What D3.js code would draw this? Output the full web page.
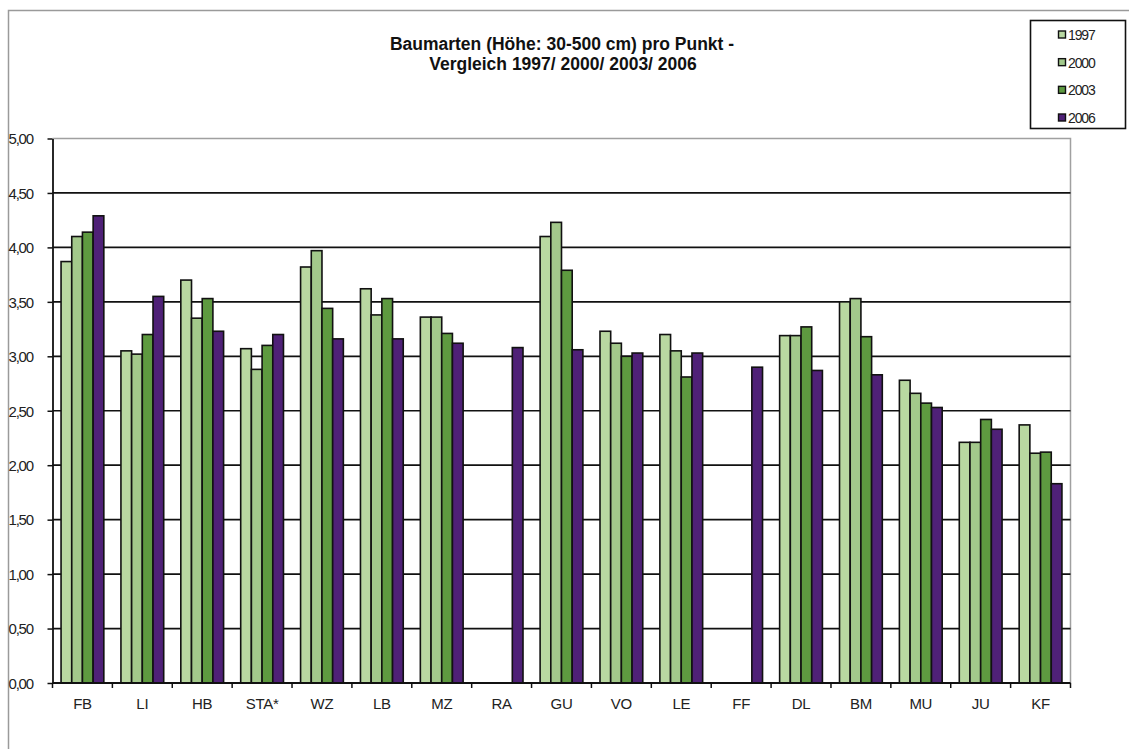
<!DOCTYPE html>
<html>
<head>
<meta charset="utf-8">
<script src="https://cdn.jsdelivr.net/npm/d3@7/dist/d3.min.js"></script>
<style>
  html, body { margin: 0; padding: 0; background: #fff; }
  svg { display: block; font-family: "Liberation Sans", Arial, sans-serif; }
</style>
</head>
<body>
<svg id="chart" width="1129" height="749"></svg>
<script>
// Tree species (height 30-500 cm) per point, surveys 1997/2000/2003/2006
const categories = ["FB", "LI", "HB", "STA*", "WZ", "LB", "MZ", "RA", "GU", "VO", "LE", "FF", "DL", "BM", "MU", "JU", "KF"];
const years = ["1997", "2000", "2003", "2006"];
const v1997 = [3.87, 3.05, 3.70, 3.07, 3.82, 3.62, 3.36, null, 4.10, 3.23, 3.20, null, 3.19, 3.50, 2.78, 2.21, 2.37];
const v2000 = [4.10, 3.02, 3.35, 2.88, 3.97, 3.38, 3.36, null, 4.23, 3.12, 3.05, null, 3.19, 3.53, 2.66, 2.21, 2.11];
const v2003 = [4.14, 3.20, 3.53, 3.10, 3.44, 3.53, 3.21, null, 3.79, 3.00, 2.81, null, 3.27, 3.18, 2.57, 2.42, 2.12];
const v2006 = [4.29, 3.55, 3.23, 3.20, 3.16, 3.16, 3.12, 3.08, 3.06, 3.03, 3.03, 2.90, 2.87, 2.83, 2.53, 2.33, 1.83];
const yTicks = [0, 0.5, 1, 1.5, 2, 2.5, 3, 3.5, 4, 4.5, 5];
const colors = ["#b9d8a1", "#a3c98b", "#5e9a40", "#4f2177"];

const series = [v1997, v2000, v2003, v2006];
const svg = d3.select("#chart");

// outer chart frame
svg.append("path")
  .attr("d", "M8.5,749 V10.5 H1129")
  .attr("fill", "none").attr("stroke", "#9a9a9a").attr("stroke-width", 1.5);

const plot = { left: 52.5, right: 1070.5, top: 138.5, bottom: 683 };

const x = d3.scaleBand().domain(categories).range([plot.left, plot.right]).paddingInner(0).paddingOuter(0);
const inner = d3.scaleBand().domain(years).range([0, x.bandwidth() / 1.4]);
const y = d3.scaleLinear().domain([0, 5]).range([plot.bottom, plot.top]);

// plot area border (top and right)
svg.append("path")
  .attr("d", `M${plot.left},${plot.top} H${plot.right} V${plot.bottom}`)
  .attr("fill", "none").attr("stroke", "#a0a0a0").attr("stroke-width", 1.5);

// horizontal gridlines
svg.append("g").selectAll("line")
  .data(yTicks.filter(t => t > 0 && t < 5))
  .join("line")
  .attr("x1", plot.left).attr("x2", plot.right)
  .attr("y1", d => y(d)).attr("y2", d => y(d))
  .attr("stroke", "#111").attr("stroke-width", 1.7);

// bars
const groupOffset = (x.bandwidth() - x.bandwidth() / 1.4) / 2;
const barG = svg.append("g");
series.forEach((vals, si) => {
  barG.append("g").selectAll("rect")
    .data(categories.map((c, i) => ({ c, v: vals[i] })).filter(d => d.v != null))
    .join("rect")
    .attr("x", d => x(d.c) + groupOffset + inner(years[si]))
    .attr("width", inner.bandwidth())
    .attr("y", d => y(d.v))
    .attr("height", d => y(0) - y(d.v))
    .attr("fill", colors[si])
    .attr("stroke", "#111").attr("stroke-width", 1.6);
});

const labelFont = 15;

// y axis
const yAxis = d3.axisLeft(y).tickValues(yTicks).tickSize(5).tickSizeOuter(0)
  .tickFormat(d => d3.format(".2f")(d).replace(".", ","));
const gy = svg.append("g").attr("transform", `translate(${plot.left},0)`).call(yAxis);
gy.select(".domain").attr("stroke", "#111").attr("stroke-width", 1.8);
gy.selectAll(".tick line").attr("stroke", "#111").attr("stroke-width", 1.5);
gy.selectAll(".tick text")
  .attr("x", -44).attr("dy", "0.35em").attr("text-anchor", "start")
  .attr("font-size", labelFont).attr("fill", "#222").style("letter-spacing", "-1.2px");

// x axis with tick marks at category boundaries
svg.append("line")
  .attr("x1", plot.left).attr("x2", plot.right)
  .attr("y1", y(0)).attr("y2", y(0))
  .attr("stroke", "#111").attr("stroke-width", 2);
svg.append("g").selectAll("line")
  .data(d3.range(categories.length + 1))
  .join("line")
  .attr("x1", i => plot.left + i * x.step()).attr("x2", i => plot.left + i * x.step())
  .attr("y1", y(0)).attr("y2", y(0) + 5)
  .attr("stroke", "#111").attr("stroke-width", 1.5);
svg.append("g").selectAll("text")
  .data(categories)
  .join("text")
  .attr("x", d => x(d) + x.bandwidth() / 2)
  .attr("y", plot.bottom + 26)
  .attr("text-anchor", "middle")
  .attr("font-size", labelFont).attr("fill", "#222").style("letter-spacing", "-0.3px")
  .text(d => d);

// title
const title = svg.append("text").attr("text-anchor", "middle")
  .attr("font-size", 17.5).attr("font-weight", "bold").attr("fill", "#111");
title.append("tspan").attr("x", 562).attr("y", 50).text("Baumarten (Höhe: 30-500 cm) pro Punkt -");
title.append("tspan").attr("x", 563).attr("y", 70).text("Vergleich 1997/ 2000/ 2003/ 2006");

// legend
const legend = svg.append("g");
legend.append("rect")
  .attr("x", 1030.5).attr("y", 20.5).attr("width", 95).attr("height", 108)
  .attr("fill", "#fff").attr("stroke", "#111").attr("stroke-width", 1.6);
const ly = d3.scalePoint().domain(years).range([35, 118]);
years.forEach((yr, i) => {
  legend.append("rect")
    .attr("x", 1058.5).attr("y", ly(yr) - 4).attr("width", 7).attr("height", 7)
    .attr("fill", colors[i]).attr("stroke", "#111").attr("stroke-width", 1.4);
  legend.append("text")
    .attr("x", 1068).attr("y", ly(yr) + 5)
    .attr("font-size", 14).attr("fill", "#222").style("letter-spacing", "-1.1px")
    .text(yr);
});
</script>
</body>
</html>
